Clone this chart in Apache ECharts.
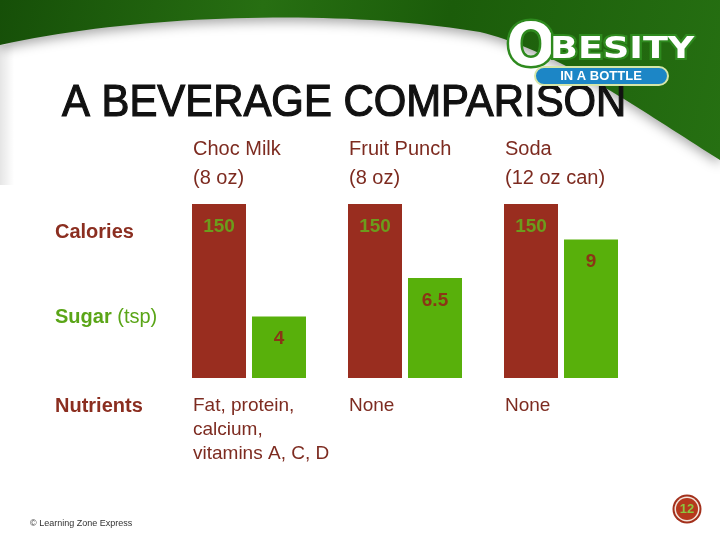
<!DOCTYPE html>
<html>
<head>
<meta charset="utf-8">
<script src="https://cdn.jsdelivr.net/npm/echarts@6/dist/echarts.min.js"></script>
<style>html,body{margin:0;padding:0;background:#fff}#c{width:720px;height:540px}</style>
</head>
<body>
<div id="c"></div>
<script>
// ---- data ----
const categories = ['Choc Milk', 'Fruit Punch', 'Soda'];
const servings = ['(8 oz)', '(8 oz)', '(12 oz can)'];
const calories = [150, 150, 150];
const sugarTsp = [4, 6.5, 9];
const nutrients = ['Fat, protein,\ncalcium,\nvitamins A, C, D', 'None', 'None'];
const rowLabels = ['Calories', 'Sugar', '(tsp)', 'Nutrients'];
const titleText = 'A BEVERAGE COMPARISON';
const pageNumber = '12';
const footer = '\u00A9 Learning Zone Express';

// ---- styles ----
const darkRed = '#7d2b20';
const barRed = '#992d1f';
const barGreen = '#58b00b';
const sugarGreen = '#5aa517';
const FONT = 'Liberation Sans, Arial, sans-serif';

// decorative header curve (background shape)
function bez(p0, p1, p2, p3, t) {
  const u = 1 - t;
  return [
    u*u*u*p0[0] + 3*u*u*t*p1[0] + 3*u*t*t*p2[0] + t*t*t*p3[0],
    u*u*u*p0[1] + 3*u*u*t*p1[1] + 3*u*t*t*p2[1] + t*t*t*p3[1]
  ];
}
const curve = [];
for (let i = 0; i <= 40; i++) curve.push(bez([0,45],[150,12],[350,10],[480,32], i/40));
for (let i = 1; i <= 40; i++) curve.push(bez([480,32],[560,52],[640,110],[720,160], i/40));
const greenPts = [[0,0],[720,0]].concat(curve.slice().reverse());

const chart = echarts.init(document.getElementById('c'), null, {renderer: 'canvas'});

const option = {
  animation: false,
  backgroundColor: '#ffffff',
  grid: {left: 171, right: 81, top: 204, bottom: 162, containLabel: false},
  xAxis: [
    {
      type: 'category', data: categories, position: 'top',
      axisLine: {show: false}, axisTick: {show: false}, splitLine: {show: false},
      axisLabel: {
        interval: 0, margin: 11, fontSize: 20, lineHeight: 29, color: darkRed, fontFamily: FONT,
        formatter: (v, i) => '{h|' + v + '}\n{h|' + servings[i] + '}',
        rich: {h: {width: 112, align: 'left', fontSize: 20, lineHeight: 29, color: darkRed, fontFamily: FONT}}
      }
    },
    {
      type: 'category', data: categories, position: 'bottom',
      axisLine: {show: false}, axisTick: {show: false}, splitLine: {show: false},
      axisLabel: {
        interval: 0, margin: 16, fontSize: 19, lineHeight: 24, color: darkRed, fontFamily: FONT,
        formatter: (v, i) => nutrients[i].split('\n').map(s => '{n|' + s + '}').join('\n'),
        rich: {n: {width: 112, align: 'left', fontSize: 19, lineHeight: 24, color: darkRed, fontFamily: FONT}}
      }
    }
  ],
  yAxis: [
    {type: 'value', min: 0, max: 150, show: false, splitLine: {show: false}},
    {type: 'value', min: 0, max: 11.3, show: false, splitLine: {show: false}}
  ],
  series: [
    {
      name: 'Calories', type: 'bar', xAxisIndex: 0, yAxisIndex: 0, data: calories,
      barWidth: 54, barGap: '11.1%',
      itemStyle: {color: barRed},
      label: {show: true, position: 'insideTop', distance: 13, fontSize: 19, fontWeight: 'bold',
              color: '#6c9c1c', fontFamily: FONT}
    },
    {
      name: 'Sugar', type: 'bar', xAxisIndex: 0, yAxisIndex: 1, data: sugarTsp,
      barWidth: 54, barGap: '11.1%',
      itemStyle: {color: barGreen},
      label: {show: true, position: 'insideTop', distance: 13, fontSize: 19, fontWeight: 'bold',
              color: '#8b3516', fontFamily: FONT}
    }
  ],
  graphic: [
    // header green band
    {type: 'polygon', z: -10, shape: {points: greenPts},
     style: {fill: new echarts.graphic.LinearGradient(0, 0, 1, 1, [
       {offset: 0, color: '#164f08'}, {offset: 0.35, color: '#276f12'},
       {offset: 0.6, color: '#1b5c0a'}, {offset: 1, color: '#267012'}]),
       shadowBlur: 12, shadowOffsetY: 4, shadowColor: 'rgba(0,0,0,0.35)'}},
    // left faint strip
    {type: 'rect', z: -11, shape: {x: 0, y: 45, width: 14, height: 140},
     style: {fill: new echarts.graphic.LinearGradient(0, 0, 1, 0, [
       {offset: 0, color: 'rgba(0,0,0,0.10)'}, {offset: 1, color: 'rgba(0,0,0,0)'}])}},
    // logo
    {type: 'text', z: 5, x: 531, y: 50,
     style: {text: 'O', fontSize: 58, fontWeight: 'bold', fontFamily: 'DejaVu Sans, sans-serif',
             fill: '#ffffff', stroke: '#2e8a1e', lineWidth: 5, strokeFirst: true,
             align: 'center', verticalAlign: 'middle'}},
    {type: 'text', z: 5, x: 550, y: 50, scaleX: 1.22,
     style: {text: 'BESITY', fontSize: 30, fontWeight: 'bold', fontFamily: 'DejaVu Sans, sans-serif',
             fill: '#ffffff', stroke: '#2e8a1e', lineWidth: 4, strokeFirst: true,
             align: 'left', verticalAlign: 'middle'}},
    {type: 'rect', z: 5, shape: {x: 535, y: 67, width: 133, height: 18, r: 9},
     style: {fill: '#1c86c6', stroke: '#d6e6a8', lineWidth: 2}},
    {type: 'text', z: 6, x: 601, y: 76.5,
     style: {text: 'IN A BOTTLE', fontSize: 13, fontWeight: 'bold', fontFamily: FONT,
             fill: '#ffffff', align: 'center', verticalAlign: 'middle'}},
    // title
    {type: 'text', z: 4, x: 62, y: 104, scaleX: 0.93,
     style: {text: titleText, fontSize: 45, fontFamily: FONT, fill: '#111111', stroke: '#111111',
             lineWidth: 1.2, align: 'left', verticalAlign: 'middle'}},
    // row labels
    {type: 'text', x: 55, y: 232,
     style: {text: rowLabels[0], fontSize: 20, fontWeight: 'bold', fontFamily: FONT, fill: '#8b2e20',
             align: 'left', verticalAlign: 'middle'}},
    {type: 'text', x: 55, y: 317,
     style: {text: '{b|' + rowLabels[1] + '} {n|' + rowLabels[2] + '}', fontSize: 20, fontFamily: FONT,
             fill: sugarGreen, align: 'left', verticalAlign: 'middle',
             rich: {b: {fontSize: 20, fontWeight: 'bold', fontFamily: FONT, fill: sugarGreen, color: sugarGreen},
                    n: {fontSize: 20, fontFamily: FONT, fill: sugarGreen, color: sugarGreen}}}},
    {type: 'text', x: 55, y: 406,
     style: {text: rowLabels[3], fontSize: 20, fontWeight: 'bold', fontFamily: FONT, fill: '#8b2e20',
             align: 'left', verticalAlign: 'middle'}},
    // footer
    {type: 'text', x: 30, y: 524,
     style: {text: footer, fontSize: 9, fontFamily: FONT, fill: '#333333', align: 'left', verticalAlign: 'middle'}},
    // page number badge
    {type: 'circle', shape: {cx: 687, cy: 509, r: 14.5}, style: {fill: '#a3301c'}},
    {type: 'circle', shape: {cx: 687, cy: 509, r: 12.5}, style: {fill: '#f3e6dc'}},
    {type: 'circle', shape: {cx: 687, cy: 509, r: 11}, style: {fill: '#b5381d'}},
    {type: 'text', x: 687, y: 509.5,
     style: {text: pageNumber, fontSize: 13, fontWeight: 'bold', fontFamily: FONT, fill: '#8cc63f',
             align: 'center', verticalAlign: 'middle'}}
  ]
};
chart.setOption(option);
</script>
</body>
</html>
